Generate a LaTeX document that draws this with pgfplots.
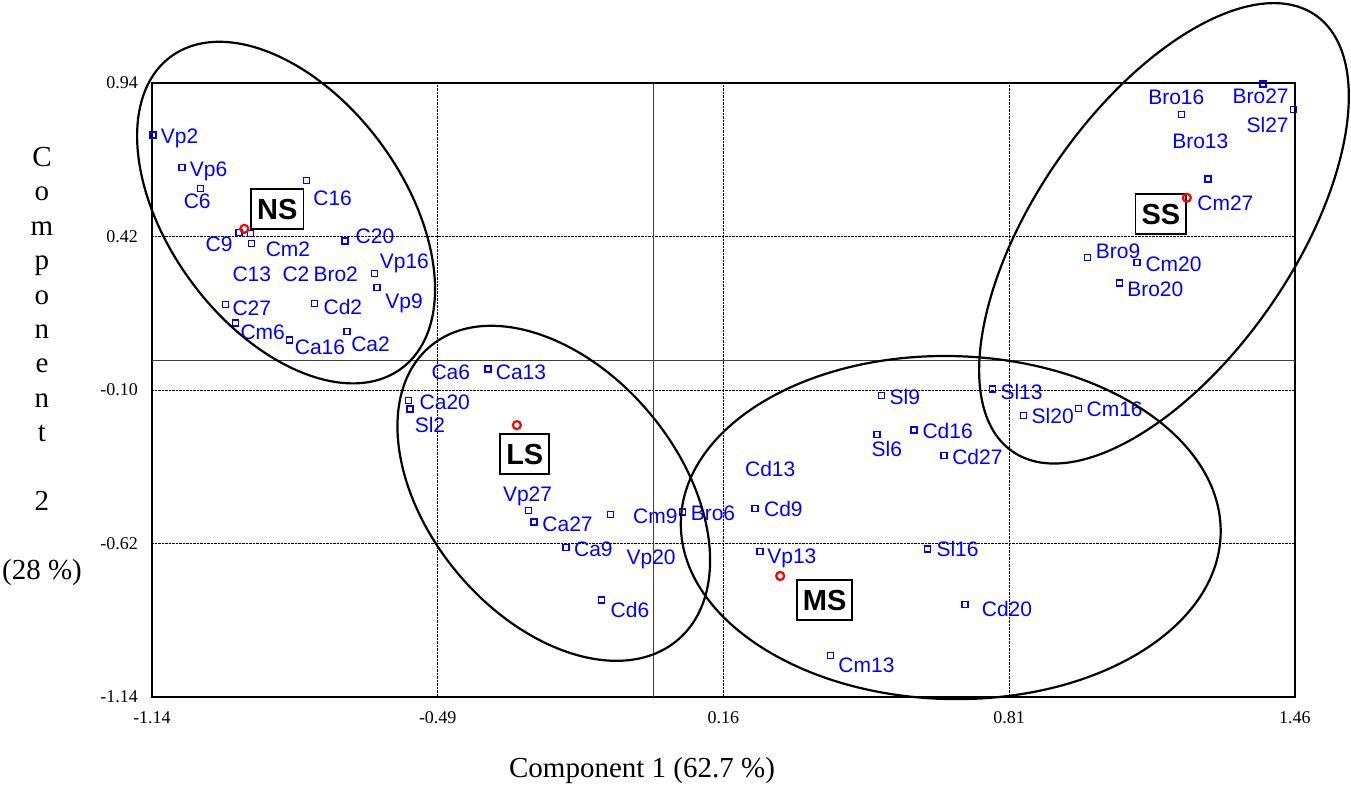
\documentclass[border=0pt]{standalone}
\usepackage{pgfplots}
\pgfplotsset{compat=1.18}
\usepackage{pgfplotstable}
\usepackage{fontspec}
\setmainfont{Liberation Serif}
\newfontfamily\arial{Liberation Sans}

\pgfplotstableread{
x y dx dy lab
-1.138 0.764 7.3 -9 Vp2
-1.072 0.654 7.3 -9.2 Vp6
-1.029 0.583 -17.7 -19.7 C6
-0.789 0.609 6.4 -24.3 C16
-0.942 0.434 -34 -19.4 C9
-0.914 0.396 13.7 -13 Cm2
-0.916 0.431 -18.6 -48.4 C13
-0.916 0.431 31.4 -48.4 C2
-0.916 0.431 62.4 -48.4 Bro2
-0.701 0.405 10 -3 C20
-0.634 0.295 4.7 5 Vp16
-0.628 0.248 7.7 -21 Vp9
-0.973 0.189 6.4 -11 C27
-0.771 0.192 8.7 -10.3 Cd2
-0.950 0.127 4.3 -17 Cm6
-0.827 0.069 4.6 -14 Ca16
-0.696 0.098 3.4 -20 Ca2
-0.376 -0.029 -57 -10.3 Ca6
-0.376 -0.029 7.3 -10.3 Ca13
-0.556 -0.136 10.3 -9.3 Ca20
-0.553 -0.165 4 -23.4 Sl2
-0.283 -0.509 -26.4 9.7 Vp27
-0.271 -0.547 7.7 -9.7 Ca27
-0.097 -0.522 22 -8.6 Cm9
-0.097 -0.522 15.4 -50.3 Vp20
-0.198 -0.634 7.3 -9 Ca9
-0.117 -0.811 8.3 -17.7 Cd6
0.067 -0.513 7.5 -9 Bro6
0.519 -0.118 7.7 -8.7 Sl9
0.509 -0.250 -6 -22.4 Sl6
0.593 -0.235 8 -8.3 Cd16
0.662 -0.322 7.4 -8.6 Cd27
0.232 -0.502 -10.7 32 Cd13
0.232 -0.502 8.3 -8 Cd9
0.243 -0.648 6.7 -11.6 Vp13
0.624 -0.639 8.4 -7.7 Sl16
0.709 -0.827 16.3 -12.3 Cd20
0.403 -0.999 7.4 -17 Cm13
1.202 0.833 -34 9.7 Bro16
1.202 0.833 -10 -33.6 Bro13
1.387 0.937 -31 -20 Bro27
1.456 0.851 -47.3 -23.4 Sl27
1.262 0.615 -11.3 -31.7 Cm27
0.988 0.348 7.7 -0.6 Bro9
1.101 0.331 7.7 -9 Cm20
1.061 0.262 7 -13.4 Bro20
0.772 -0.097 7.3 -10 Sl13
0.842 -0.187 7.7 -7.6 Sl20
0.967 -0.162 7.7 -8.4 Cm16
}\pts

\begin{document}
\begin{tikzpicture}
\begin{axis}[
  name=ax,
  scale only axis,
  width=1143pt, height=614pt,
  xmin=-1.14, xmax=1.46, ymin=-1.14, ymax=0.94,
  clip=false,
  axis line style={line width=2.5pt, black},
  xtick={-1.14,-0.49,0.16,0.81,1.46},
  xticklabels={-1.14,-0.49,0.16,0.81,1.46},
  ytick={-1.14,-0.62,-0.10,0.42,0.94},
  yticklabels={-1.14,-0.62,-0.10,0.42,0.94},
  major tick length=0pt,
  grid=major,
  major grid style={densely dotted, line width=0.9pt, black},
  tick label style={font=\fontsize{18}{20}\selectfont, inner sep=0pt},
  x tick label style={anchor=north, yshift=-14pt},
  y tick label style={anchor=east, xshift=-14pt},
]
\draw[line width=1.3pt, black!75] (axis cs:0,-1.14) -- (axis cs:0,0.94);
\draw[line width=1.3pt, black!75] (axis cs:-1.14,0) -- (axis cs:1.46,0);

\addplot[only marks, mark=square, mark size=3pt, color=blue,
  mark options={draw=blue, solid, line width=1.4pt},
  point meta=explicit symbolic,
  nodes near coords,
  visualization depends on={\thisrow{dx}\as\dx},
  visualization depends on={\thisrow{dy}\as\dy},
  every node near coord/.append style={anchor=base west, inner sep=0pt,
     xshift=\dx pt, yshift=\dy pt, font=\arial\fontsize{21}{24}\selectfont, text=blue},
] table[x=x, y=y, meta=lab]{\pts};

\addplot[only marks, mark=o, mark size=4pt, red, mark options={line width=2.2pt}]
  coordinates {(-0.930,0.446) (-0.310,-0.219) (0.289,-0.730) (1.214,0.551)};

\coordinate (eNS) at (axis cs:-0.835,0.501);
\coordinate (eLS) at (axis cs:-0.226,-0.450);
\coordinate (eMS) at (axis cs:0.677,-0.566);
\coordinate (eSS) at (axis cs:1.162,0.431);

\tikzset{grp/.style={draw=black, line width=1.8pt, fill=white,
   font=\arial\bfseries\fontsize{29}{30}\selectfont,
   text height=21pt, text depth=0pt, inner xsep=6pt, inner ysep=9.5pt}}
\node[grp] at (axis cs:-0.855,0.513) {NS};
\node[grp] at (axis cs:-0.292,-0.316) {LS};
\node[grp] at (axis cs:0.390,-0.811) {MS};
\node[grp] at (axis cs:1.155,0.495) {SS};
\end{axis}

\draw[line width=2.2pt, rotate around={-53.5:(eNS)}] (eNS) ellipse [x radius=193.9pt, y radius=117.3pt];
\draw[line width=2.2pt, rotate around={-49.9:(eLS)}] (eLS) ellipse [x radius=192pt, y radius=125pt];
\draw[line width=2.2pt, rotate around={-1.3:(eMS)}] (eMS) ellipse [x radius=270pt, y radius=171.5pt];
\draw[line width=2.2pt, rotate around={55.2:(eSS)}] (eSS) ellipse [x radius=265.6pt, y radius=128.8pt];

\node[anchor=base, font=\fontsize{29}{32}\selectfont] at ([shift={(490pt,-80pt)}]ax.south west) {Component 1 (62.7 \%)};
\node[anchor=north, align=center, inner sep=0pt, font=\fontsize{29}{34.4}\selectfont]
  at ([shift={(-110pt,550pt)}]ax.south west)
  {C\\o\\m\\p\\o\\n\\e\\n\\t\\[34.4pt]2\\[34.4pt](28 \%)};

\pgfresetboundingbox
\path ([shift={(-152pt,-90pt)}]ax.south west) rectangle ([shift={(1199pt,697pt)}]ax.south west);
\end{tikzpicture}
\end{document}
